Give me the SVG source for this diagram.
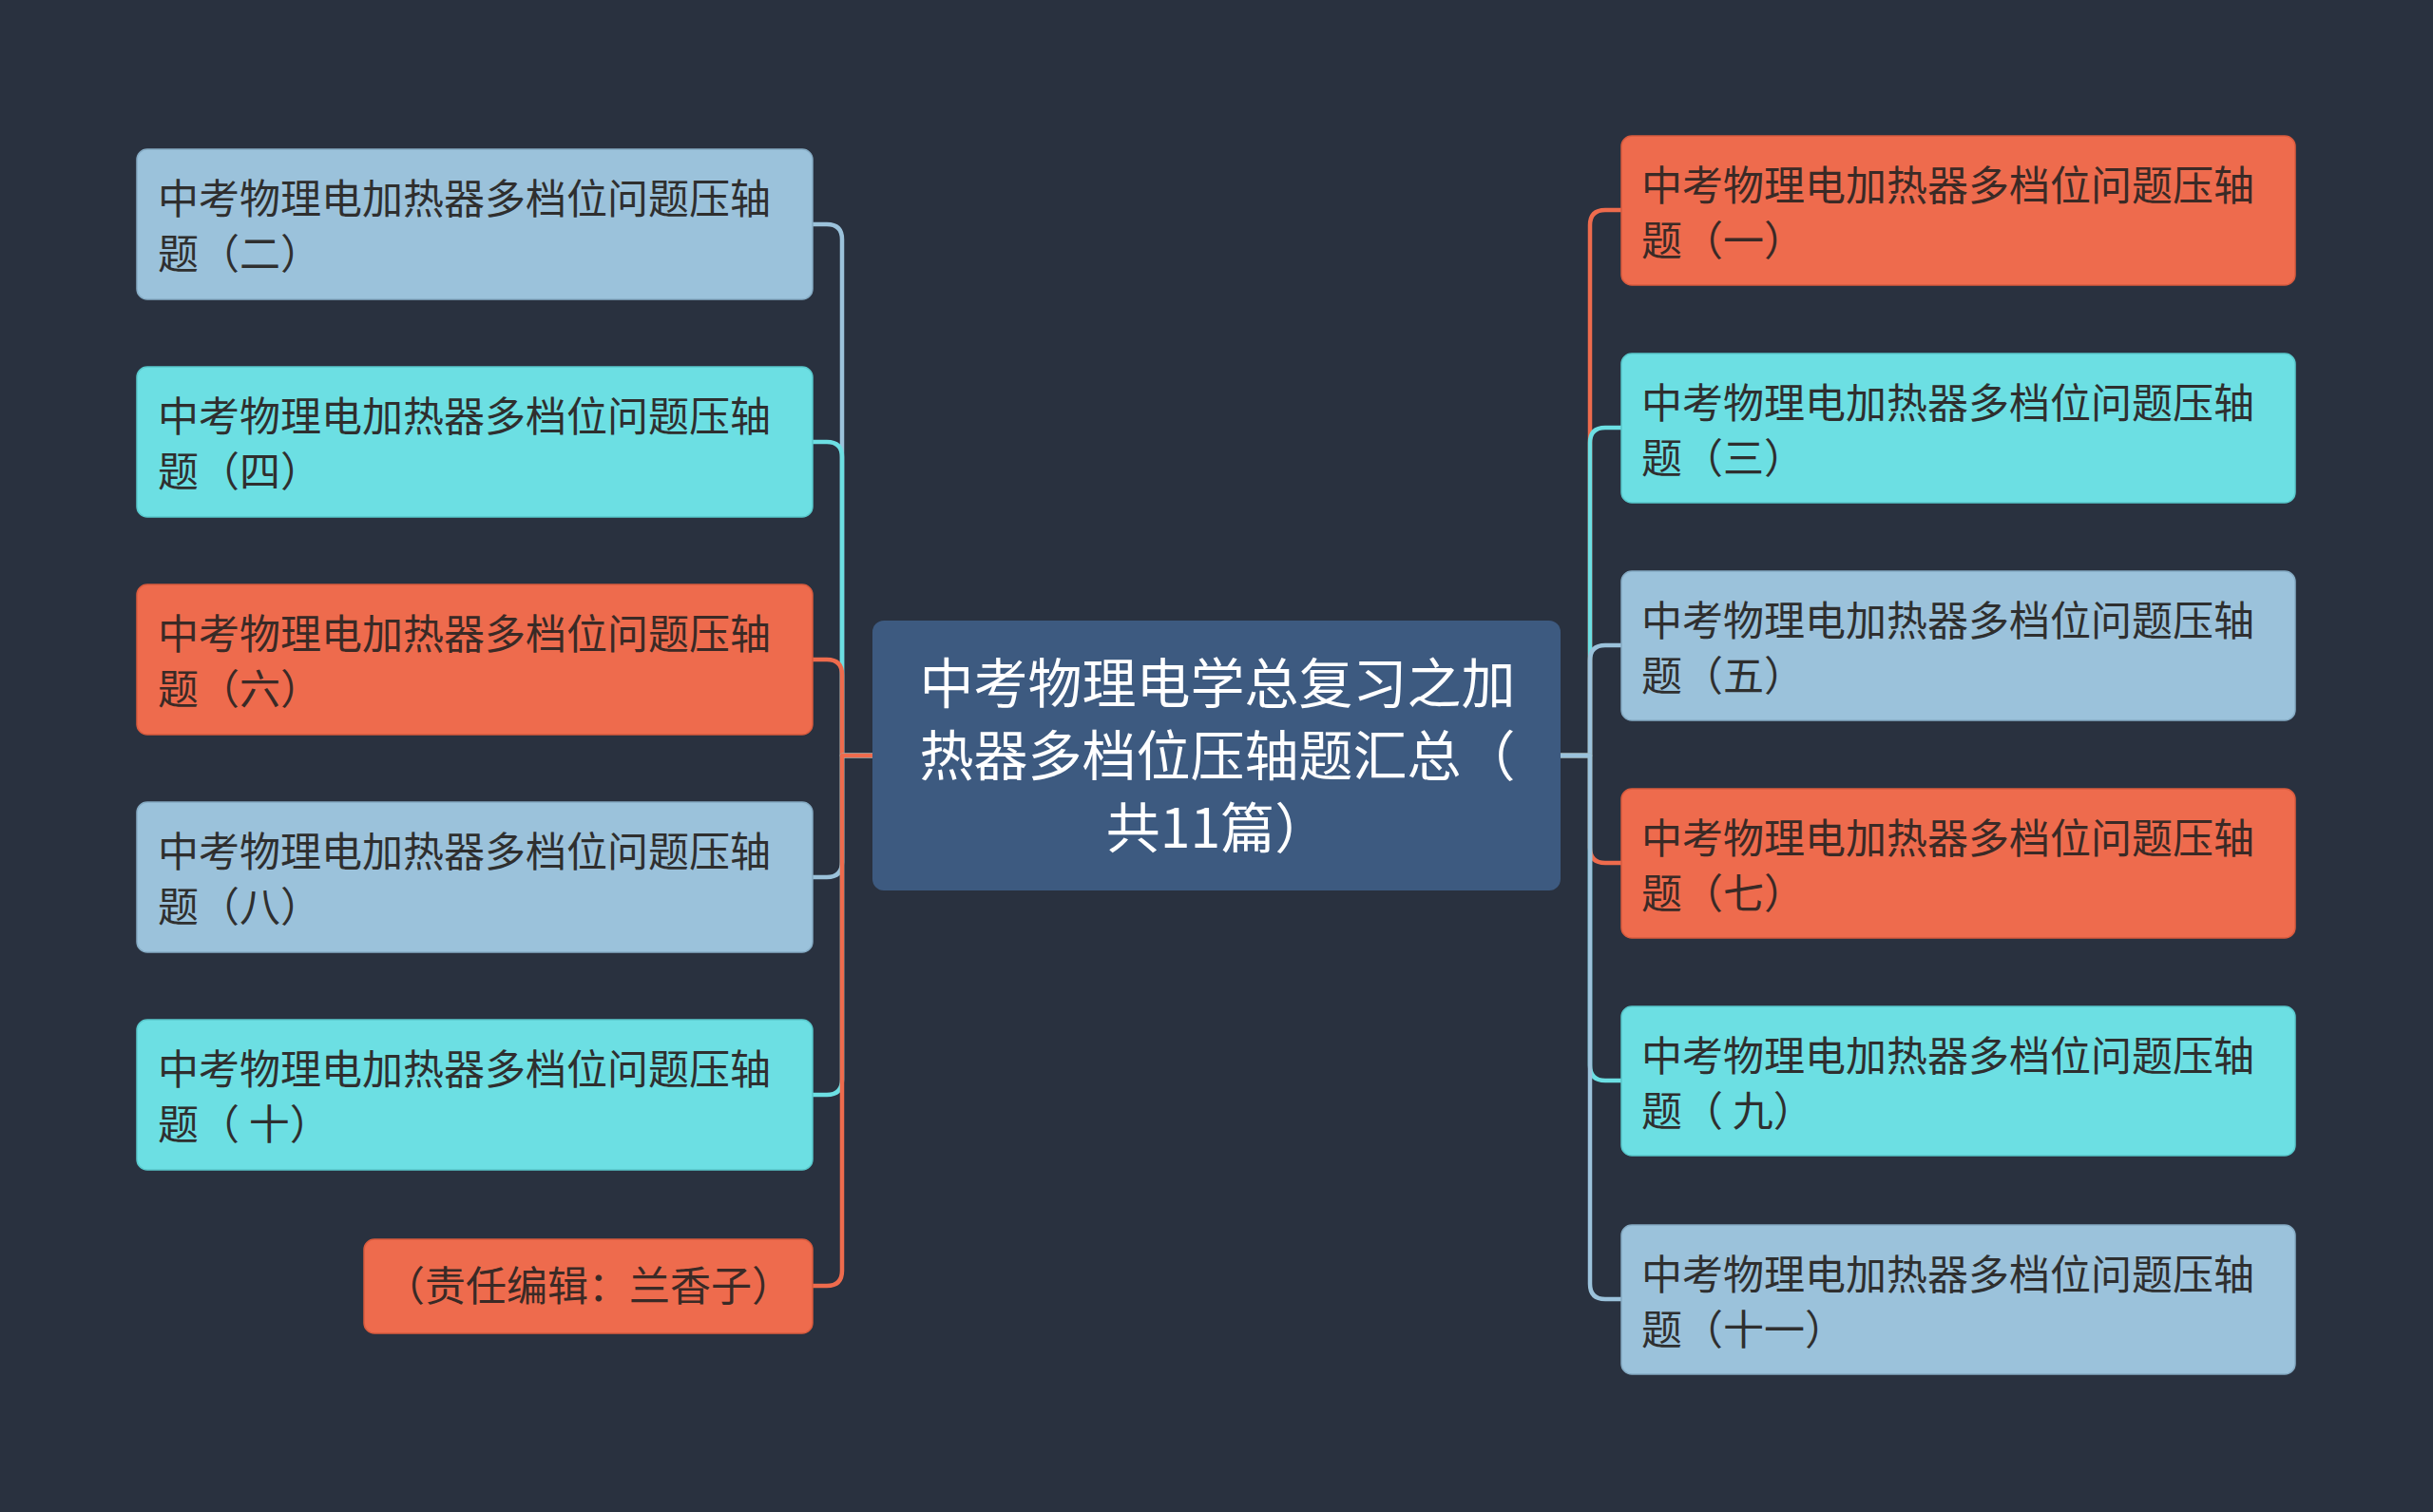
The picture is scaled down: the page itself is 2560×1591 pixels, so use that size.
<svg xmlns="http://www.w3.org/2000/svg" width="2560" height="1591" viewBox="0 0 2560 1591">
<style>
.bg{fill:#29313f}
.n rect{stroke-width:1.5}
.or rect{fill:#ee6b4d;stroke:#d95b3e}
.cy rect{fill:#6cdfe3;stroke:#58c8cc}
.lb rect{fill:#9bc2db;stroke:#85abc4}
.t{font-family:"Noto Sans CJK SC","Noto Sans",sans-serif;font-size:43px;fill:#2f2f2f}
.or .t{fill:#3a2a26}
.ct{font-family:"Noto Sans CJK SC","Noto Sans",sans-serif;font-size:57px;fill:#ffffff;text-anchor:middle}
.c{fill:none;stroke-width:4.5;stroke-linejoin:round}
.co{stroke:#ee6b4d}.cc{stroke:#6cdfe3}.cl{stroke:#9bc2db}
</style>
<rect class="bg" x="0" y="0" width="2560" height="1591"/>
<g id="connectors">
<path class="c cl" d="M918 795H886V252Q886 236 870 236H855"/>
<path class="c cc" d="M918 795H886V481Q886 465 870 465H855"/>
<path class="c co" d="M918 795H886V710Q886 694 870 694H855"/>
<path class="c cl" d="M918 795H886V907Q886 923 870 923H855"/>
<path class="c cc" d="M918 795H886V1136Q886 1152 870 1152H855"/>
<path class="c co" d="M918 795H886V1337Q886 1353 870 1353H855"/>
<path class="c co" d="M1642 795H1673V237Q1673 221 1689 221H1706"/>
<path class="c cc" d="M1642 795H1673V466Q1673 450 1689 450H1706"/>
<path class="c cl" d="M1642 795H1673V695Q1673 679 1689 679H1706"/>
<path class="c co" d="M1642 795H1673V892Q1673 908 1689 908H1706"/>
<path class="c cc" d="M1642 795H1673V1121Q1673 1137 1689 1137H1706"/>
<path class="c cl" d="M1642 795H1673V1351Q1673 1367 1689 1367H1706"/>
</g>
<g id="center">
<rect x="918" y="653" width="724" height="284" rx="12" fill="#3d5a80"/>
<text class="ct" x="1281" y="740">中考物理电学总复习之加</text>
<text class="ct" x="1281" y="816">热器多档位压轴题汇总（</text>
<text class="ct" x="1281" y="892">共11篇）</text>
</g>
<g id="L1" class="n lb"><rect x="144" y="157" width="711" height="158" rx="11"/><text class="t" x="166" y="225">中考物理电加热器多档位问题压轴</text><text class="t" x="166" y="283">题（二）</text></g>
<g id="L2" class="n cy"><rect x="144" y="386" width="711" height="158" rx="11"/><text class="t" x="166" y="454">中考物理电加热器多档位问题压轴</text><text class="t" x="166" y="512">题（四）</text></g>
<g id="L3" class="n or"><rect x="144" y="615" width="711" height="158" rx="11"/><text class="t" x="166" y="683">中考物理电加热器多档位问题压轴</text><text class="t" x="166" y="741">题（六）</text></g>
<g id="L4" class="n lb"><rect x="144" y="844" width="711" height="158" rx="11"/><text class="t" x="166" y="912">中考物理电加热器多档位问题压轴</text><text class="t" x="166" y="970">题（八）</text></g>
<g id="L5" class="n cy"><rect x="144" y="1073" width="711" height="158" rx="11"/><text class="t" x="166" y="1141">中考物理电加热器多档位问题压轴</text><text class="t" x="166" y="1199">题（ 十）</text></g>
<g id="L6" class="n or"><rect x="383" y="1304" width="472" height="99" rx="11"/><text class="t" x="619" y="1369" text-anchor="middle">（责任编辑：兰香子）</text></g>
<g id="R1" class="n or"><rect x="1706" y="143" width="709" height="157" rx="11"/><text class="t" x="1727" y="211">中考物理电加热器多档位问题压轴</text><text class="t" x="1727" y="269">题（一）</text></g>
<g id="R2" class="n cy"><rect x="1706" y="372" width="709" height="157" rx="11"/><text class="t" x="1727" y="440">中考物理电加热器多档位问题压轴</text><text class="t" x="1727" y="498">题（三）</text></g>
<g id="R3" class="n lb"><rect x="1706" y="601" width="709" height="157" rx="11"/><text class="t" x="1727" y="669">中考物理电加热器多档位问题压轴</text><text class="t" x="1727" y="727">题（五）</text></g>
<g id="R4" class="n or"><rect x="1706" y="830" width="709" height="157" rx="11"/><text class="t" x="1727" y="898">中考物理电加热器多档位问题压轴</text><text class="t" x="1727" y="956">题（七）</text></g>
<g id="R5" class="n cy"><rect x="1706" y="1059" width="709" height="157" rx="11"/><text class="t" x="1727" y="1127">中考物理电加热器多档位问题压轴</text><text class="t" x="1727" y="1185">题（ 九）</text></g>
<g id="R6" class="n lb"><rect x="1706" y="1289" width="709" height="157" rx="11"/><text class="t" x="1727" y="1357">中考物理电加热器多档位问题压轴</text><text class="t" x="1727" y="1415">题（十一）</text></g>
</svg>
